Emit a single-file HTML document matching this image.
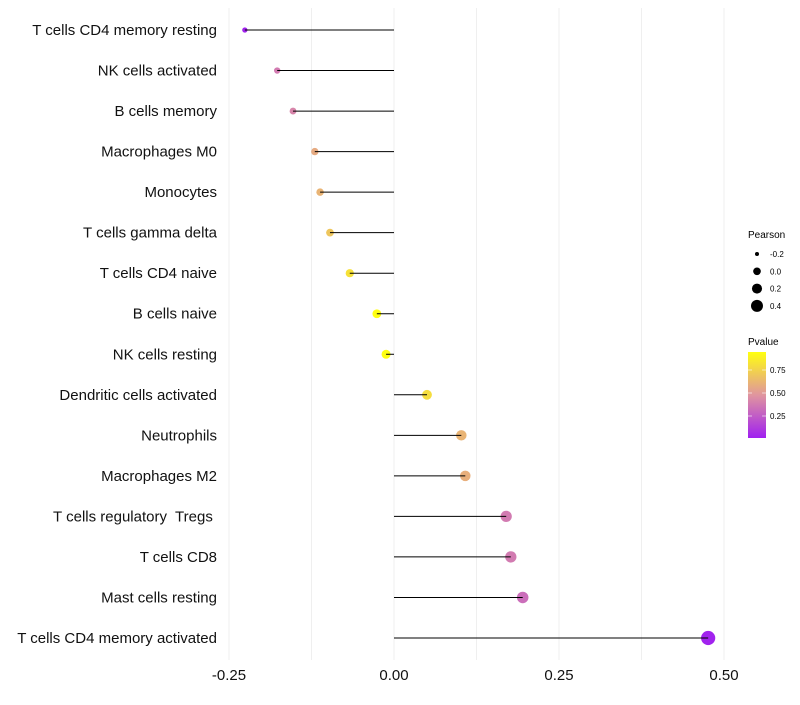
<!DOCTYPE html>
<html><head><meta charset="utf-8"><style>
body{margin:0;background:#fff;font-family:"Liberation Sans",sans-serif}
text{white-space:pre}
</style></head><body>
<svg id="c" width="800" height="700" xmlns="http://www.w3.org/2000/svg">
<defs><linearGradient id="pg" x1="0" y1="1" x2="0" y2="0">
<stop offset="0" stop-color="#a020f0"/><stop offset="0.5" stop-color="#e0959f"/><stop offset="1" stop-color="#ffff10"/>
</linearGradient></defs>
<g id="grid"></g><g id="marks"></g><g id="axes"></g>
<g font-size="9" fill="#000">
<text x="748" y="238" font-size="10">Pearson</text>
<g id="sizeleg"></g>
<text x="748" y="345" font-size="10">Pvalue</text>
<rect x="748" y="352" width="18" height="86" fill="url(#pg)"/>
<g id="colleg"></g>
</g>
</svg>
<script>
const categories=["T cells CD4 memory resting","NK cells activated","B cells memory","Macrophages M0","Monocytes","T cells gamma delta","T cells CD4 naive","B cells naive","NK cells resting","Dendritic cells activated","Neutrophils","Macrophages M2","T cells regulatory  Tregs ","T cells CD8","Mast cells resting","T cells CD4 memory activated"];
const pearson=[-0.226,-0.177,-0.153,-0.120,-0.112,-0.097,-0.067,-0.026,-0.012,0.050,0.102,0.108,0.170,0.177,0.195,0.476];
const pvalues=[0.03,0.38,0.42,0.58,0.62,0.70,0.82,0.95,0.97,0.80,0.62,0.60,0.38,0.38,0.33,0.03];
const xTicks=[-0.25,0,0.25,0.5];
const xTickLabels=["-0.25","0.00","0.25","0.50"];
const sizeLegend=[-0.2,0,0.2,0.4];
const colLegend=[0.75,0.5,0.25];
const NS="http://www.w3.org/2000/svg";
const X=v=>394+v*660;
const Y=i=>30+i*(608/15);
const R=v=>Math.sqrt(Math.max(1,21+62*v));
const RL=v=>Math.sqrt(Math.max(1,14.7+53.3*v));
function lerp(a,b,t){return a.map((x,i)=>Math.round(x+(b[i]-x)*t));}
function C(p){let t=Math.min(1,Math.max(0,(p-0.02)/0.93));const a=[160,32,240],m=[224,149,159],b=[255,255,16];
const c=t<0.5?lerp(a,m,t*2):lerp(m,b,(t-0.5)*2);return `rgb(${c})`;}
function el(t,at,parent){const e=document.createElementNS(NS,t);for(const k in at)e.setAttribute(k,at[k]);parent.appendChild(e);return e;}
const grid=document.getElementById('grid'),marks=document.getElementById('marks'),axes=document.getElementById('axes');
for(let v=-0.25;v<=0.5001;v+=0.125){const g=el('line',{x1:X(v),x2:X(v),y1:8,y2:660,stroke:'#efefef','stroke-width':1},grid);

}
xTicks.forEach((v,i)=>{const t=el('text',{x:X(v),y:680,'text-anchor':'middle','font-size':15,fill:'#111'},axes);t.textContent=xTickLabels[i];

});
categories.forEach((c,i)=>{const t=el('text',{x:217,y:Y(i)+5,'text-anchor':'end','font-size':15,fill:'#111'},axes);t.textContent=c;


const d=el('circle',{cx:X(pearson[i]),cy:Y(i),r:R(pearson[i]),fill:C(pvalues[i])},marks);


const l=el('line',{x1:X(0),x2:X(pearson[i]),y1:Y(i),y2:Y(i),stroke:'#000','stroke-width':1},marks);

});
const sl=document.getElementById('sizeleg');
sizeLegend.forEach((v,i)=>{const y=254+i*17.3;const c=el('circle',{cx:757,cy:y,r:RL(v),fill:'#000'},sl);


const t=el('text',{x:770,y:y+3,'font-size':8},sl);t.textContent=v.toFixed(1);

});
const cl=document.getElementById('colleg');
colLegend.forEach(v=>{const y=370+(0.75-v)*92;el('line',{x1:748,x2:752,y1:y,y2:y,stroke:'#fff','stroke-width':0.6},cl);el('line',{x1:762,x2:766,y1:y,y2:y,stroke:'#fff','stroke-width':0.6},cl);
const t=el('text',{x:770,y:y+3,'font-size':8},cl);t.textContent=v.toFixed(2);

});
</script>
</body></html>
